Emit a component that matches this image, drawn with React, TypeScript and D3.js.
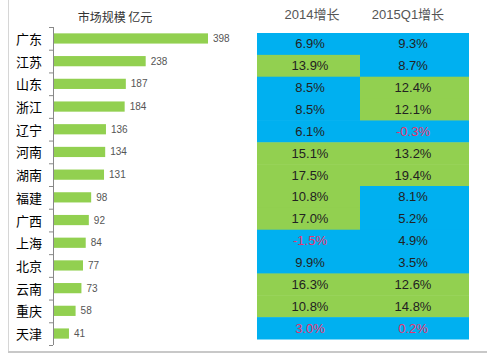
import React from "react";
import * as d3 from "d3";

const provinces = ["广东", "江苏", "山东", "浙江", "辽宁", "河南", "湖南", "福建", "广西", "上海", "北京", "云南", "重庆", "天津"];
const marketSize = [398, 238, 187, 184, 136, 134, 131, 98, 92, 84, 77, 73, 58, 41];
const growth2014 = [6.9, 13.9, 8.5, 8.5, 6.1, 15.1, 17.5, 10.8, 17.0, -1.5, 9.9, 16.3, 10.8, 3.0];
const growth2015Q1 = [9.3, 8.7, 12.4, 12.1, -0.3, 13.2, 19.4, 8.1, 5.2, 4.9, 3.5, 12.6, 14.8, 0.2];
const columnHeaders = ["2014增长", "2015Q1增长"];
const chartTitle = "市场规模 亿元";

const W = 487;
const H = 359;
const BLUE = "#00B0F0";
const GREEN = "#92D050";
const RED = "#E8336D";

export default function App() {
  const axisX = 53;
  const y = d3.scaleBand<string>().domain(provinces).range([27, 345]).paddingInner(0.55).paddingOuter(0.28);
  const yTicks = d3.scaleBand<string>().domain(provinces).range([27, 345]);
  const x = d3.scaleLinear().domain([0, 398]).range([axisX, 208]);

  const cols = d3.scaleBand<string>().domain(columnHeaders).range([257, 469]);
  const colEdges = [257, 360, 469];
  const rowY = d3.scaleBand<string>().domain(provinces).range([33, 339]);
  const series = [growth2014, growth2015Q1];

  const fmt = (v: number) => v.toFixed(1) + "%";

  return (
    <svg width={W} height={H} style={{ position: "absolute", left: 0, top: 0, background: "#fff" }}>
      <rect x={0} y={0} width={W} height={H} fill="#fff" />
      {/* frame */}
      <line x1={8.5} y1={0} x2={8.5} y2={352} stroke="#d6d6d6" strokeWidth={1} />
      <line x1={8} y1={352} x2={W} y2={352} stroke="#c8c8c8" strokeWidth={2} />

      <text x={115} y={22} textAnchor="middle" fontFamily="Noto Sans CJK SC" fontSize={12} fill="#333">{chartTitle}</text>

      {/* axis */}
      <line x1={axisX + 0.5} y1={27} x2={axisX + 0.5} y2={345} stroke="#888" />
      {provinces.map((p) => (
        <line key={"t" + p} x1={49} x2={axisX} y1={yTicks(p)! + 0.5} y2={yTicks(p)! + 0.5} stroke="#888" />
      ))}
      <line x1={49} x2={axisX} y1={345.5} y2={345.5} stroke="#888" />

      {provinces.map((p, i) => {
        const cy = y(p)! + y.bandwidth() / 2;
        return (
          <g key={p}>
            <text x={42} y={cy} textAnchor="end" dominantBaseline="central" fontFamily="Noto Sans CJK SC" fontSize={13} fill="#000">{p}</text>
            <rect x={axisX + 1} y={y(p)!} width={x(marketSize[i]) - axisX - 1} height={y.bandwidth()} fill={GREEN} />
            <text x={x(marketSize[i]) + 5} y={cy} dominantBaseline="central" fontFamily="Liberation Sans" fontSize={10} fill="#555">{marketSize[i]}</text>
          </g>
        );
      })}

      {/* table */}
      {columnHeaders.map((h) => (
        <text key={h} x={cols(h)! + cols.bandwidth() / 2 + (h === columnHeaders[0] ? 2 : -8)} y={14} textAnchor="middle" dominantBaseline="central" fontFamily="Liberation Sans, Noto Sans CJK SC" fontSize={13} fill="#555">{h}</text>
      ))}
      {series.map((s, c) =>
        provinces.map((p, i) => {
          const v = s[i];
          const x0 = colEdges[c];
          const x1 = colEdges[c + 1];
          return (
            <g key={c + p}>
              <rect x={x0} y={rowY(p)!} width={x1 - x0} height={rowY.bandwidth() + 0.5} fill={v >= 10 ? GREEN : BLUE} />
              <text x={c === 0 ? 310 : 413} y={rowY(p)! + rowY.bandwidth() / 2} textAnchor="middle" dominantBaseline="central" fontFamily="Liberation Sans" fontSize={13} fill={v <= 3 ? RED : "#222"}>{fmt(v)}</text>
            </g>
          );
        })
      )}
    </svg>
  );
}
